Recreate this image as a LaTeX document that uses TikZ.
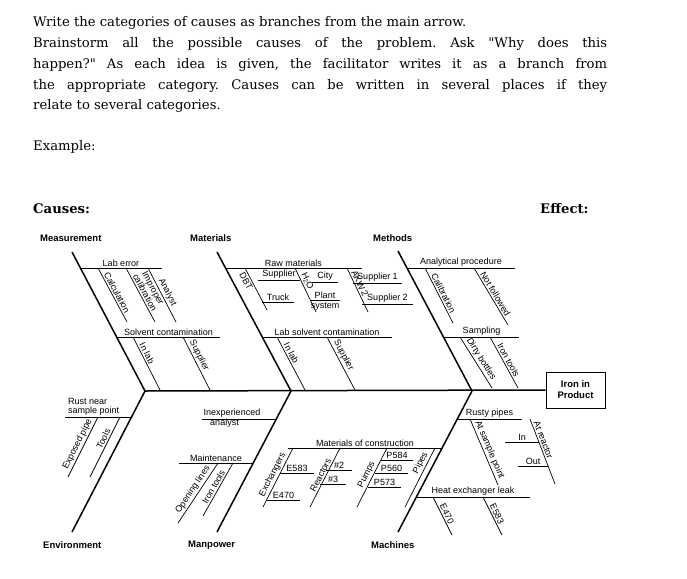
\documentclass[tikz,border=0pt]{standalone}
\usepackage{fontspec}
\setmainfont{DejaVu Serif}
\newfontfamily\lab{Liberation Sans}
\frenchspacing
\begin{document}
\begin{tikzpicture}[x=1pt,y=-1pt,
  para/.style={anchor=base west,inner sep=0pt,font=\fontsize{13.2}{15}\selectfont},
  bone/.style={line width=1.5pt},
  twig/.style={line width=0.7pt},
  lbl/.style={font=\lab\fontsize{9}{9}\selectfont,inner sep=1pt},
  cat/.style={font=\lab\bfseries\fontsize{9.5}{10}\selectfont,anchor=west,inner sep=0pt},
  sl/.style={sloped,above,font=\lab\fontsize{9}{9}\selectfont,inner sep=1.5pt}]
\useasboundingbox (0,0) rectangle (687,578);
\node[para] (t1) at (33,27) {Write the categories of causes as branches from the main arrow.};
\node[para] (t2) at (33,48) {\makebox[574pt][s]{Brainstorm all the possible causes of the problem. Ask \textquotedbl Why does this}};
\node[para] (t3) at (33,68) {\makebox[574pt][s]{happen?\textquotedbl{} As each idea is given, the facilitator writes it as a branch from}};
\node[para] (t4) at (33,89) {\makebox[574pt][s]{the appropriate category. Causes can be written in several places if they}};
\node[para] (t5) at (33,109) {relate to several categories.};
\node[para] (ex) at (33,150) {Example:};
\node[para,font=\bfseries\fontsize{13.2}{15}\selectfont] (causes) at (33,213) {Causes:};
\node[para,font=\bfseries\fontsize{13.2}{15}\selectfont] (effect) at (540,213) {Effect:};
\node[cat] (c1) at (40,238) {Measurement};
\node[cat] (c2) at (190,238) {Materials};
\node[cat] (c3) at (373,238) {Methods};
\node[cat] (c4) at (43,545) {Environment};
\node[cat] (c5) at (188,545) {Manpower};
\node[cat] (c6) at (371,545) {Machines};
\node[draw,line width=1pt,minimum width=59pt,minimum height=36pt,align=center,
  font=\lab\bfseries\fontsize{9.5}{11}\selectfont] (box) at (575.5,390) {Iron in\\Product};
\coordinate (s1) at (145,391); \coordinate (s2) at (291,391); \coordinate (s3) at (472,391);
\draw[bone] (s1) -- (box.west);
\draw[bone] (72,252) -- (s1) -- (72,532);
\draw[bone] (217,252) -- (s2) -- (217,532);
\draw[bone] (398,251) -- (s3) -- (398,532);
\draw[twig] (80,268) -- node[lbl,above]{Lab error} (162,268);
\draw[twig] (98,268) -- node[sl]{Calculation} (127,322);
\draw[twig] (126,268) -- node[sl,align=center,font=\lab\fontsize{9}{8}\selectfont]{Improper\\calibration} (155,322);
\draw[twig] (148,268) -- node[sl]{Analyst} (176,322);
\draw[twig] (117,337) -- node[lbl,above]{Solvent contamination} (220,337);
\draw[twig] (133,337) -- node[sl,pos=0.35]{In lab} (160,390);
\draw[twig] (183,337) -- node[sl,pos=0.4]{Supplier} (210,390);
\draw[twig] (225,268) -- node[lbl,above]{Raw materials} (362,268);
\draw[twig] (245,268) -- node[sl,below,pos=0.25]{DBT} (267,310);
\draw[twig] (258,280) -- node[lbl,above]{Supplier} (300,280);
\draw[twig] (262,302) -- node[lbl,above]{Truck} (294,302);
\draw[twig] (295,268) -- node[sl,pos=0.35]{H\textsubscript{2}O} (316,312);
\draw[twig] (312,282) -- node[lbl,above]{City} (338,282);
\draw[twig] (310,300) -- node[lbl,above]{Plant} (340,300);
\node[lbl,anchor=north] (sys) at (325,301) {system};
\draw[twig] (347,268) -- node[sl,pos=0.4]{AKW 2} (368,312);
\draw[twig] (353,283) -- node[lbl,above]{Supplier 1} (402,283);
\draw[twig] (362,304) -- node[lbl,above]{Supplier 2} (413,304);
\draw[twig] (262,337) -- node[lbl,above]{Lab solvent contamination} (392,337);
\draw[twig] (277,337) -- node[sl,pos=0.35]{In lab} (305,390);
\draw[twig] (327,337) -- node[sl,pos=0.4]{Supplier} (355,390);
\draw[twig] (407,268) -- node[lbl,above]{Analytical procedure} (515,268);
\draw[twig] (425,268) -- node[sl]{Calibration} (453,323);
\draw[twig] (474,268) -- node[sl]{Not followed} (508,325);
\draw[twig] (444,337) -- node[lbl,above]{Sampling} (519,337);
\draw[twig] (460,337) -- node[sl]{Dirty bottles} (492,388);
\draw[twig] (490,337) -- node[sl]{Iron tools} (518,388);
\draw[twig] (65,417) -- (131,417);
\node[lbl,align=left,anchor=south west,inner sep=1pt] (rust) at (67,417) {Rust near\\sample point};
\draw[twig] (68,477) -- node[sl]{Exposed pipe} (98,417);
\draw[twig] (90,477) -- node[sl,pos=0.6]{Tools} (120,417);
\draw[twig] (202,419) -- node[lbl,above,pos=0.4]{Inexperienced} node[lbl,below,pos=0.3,inner sep=0pt]{analyst} (277,419);
\draw[twig] (179,463) -- node[lbl,above]{Maintenance} (253,463);
\draw[twig] (178,523) -- node[sl]{Opening lines} (218,463);
\draw[twig] (203,516) -- node[sl]{Iron tools} (233,463);
\draw[twig] (288,448) -- node[lbl,above]{Materials of construction} (442,448);
\draw[twig] (263,507) -- node[sl]{Exchangers} (293,448);
\draw[twig] (280,473) -- node[lbl,above]{E583} (314,473);
\draw[twig] (267,500) -- node[lbl,above]{E470} (300,500);
\draw[twig] (310,507) -- node[sl]{Reactors} (340,448);
\draw[twig] (326,470) -- node[lbl,above]{\#2} (352,470);
\draw[twig] (320,484) -- node[lbl,above]{\#3} (346,484);
\draw[twig] (357,507) -- node[sl]{Pumps} (387,448);
\draw[twig] (381,460) -- node[lbl,above]{P584} (413,460);
\draw[twig] (375,473) -- node[lbl,above]{P560} (408,473);
\draw[twig] (368,487) -- node[lbl,above]{P573} (401,487);
\draw[twig] (405,507) -- node[sl,pos=0.7]{Pipes} (435,448);
\draw[twig] (457,419) -- node[lbl,above]{Rusty pipes} (522,419);
\draw[twig] (470,419) -- node[sl]{At sample point} (498,485);
\draw[twig] (530,419) -- node[sl,pos=0.35]{At reactor} (555,484);
\draw[twig] (505,442) -- node[lbl,above]{In} (539,442);
\draw[twig] (518,466) -- node[lbl,above]{Out} (548,466);
\draw[twig] (416,497) -- node[lbl,above]{Heat exchanger leak} (530,497);
\draw[twig] (433,497) -- node[sl]{E470} (452,535);
\draw[twig] (483,497) -- node[sl]{E583} (502,535);
\end{tikzpicture}
\end{document}
